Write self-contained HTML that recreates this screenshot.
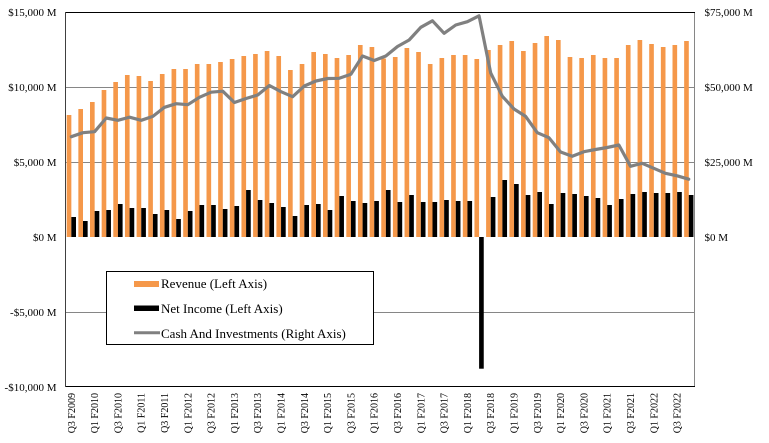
<!DOCTYPE html>
<html><head><meta charset="utf-8"><style>
html,body{margin:0;padding:0;background:#fff;}
svg{display:block;font-family:"Liberation Serif",serif;}
</style></head><body>
<svg width="769" height="443" viewBox="0 0 769 443" xmlns="http://www.w3.org/2000/svg">
<rect width="769" height="443" fill="#fff"/>
<g stroke="#868686" stroke-width="1" shape-rendering="crispEdges">
<line x1="66" y1="87.5" x2="694" y2="87.5"/>
<line x1="66" y1="162.5" x2="694" y2="162.5"/>
<line x1="66" y1="312.5" x2="694" y2="312.5"/>
<line x1="694.5" y1="12" x2="694.5" y2="387"/>
</g>
<g stroke="#000" stroke-width="1" shape-rendering="crispEdges">
<line x1="66" y1="12.5" x2="695" y2="12.5"/>
<line x1="66" y1="386.5" x2="695" y2="386.5"/>
</g>
<line x1="65.5" y1="12" x2="65.5" y2="387" stroke="#404040" stroke-width="1" shape-rendering="crispEdges"/>

<g fill="#f5984a">
<rect x="66.70" y="115" width="4.65" height="122"/>
<rect x="78.35" y="109" width="4.65" height="128"/>
<rect x="90.00" y="102" width="4.65" height="135"/>
<rect x="101.65" y="90" width="4.65" height="147"/>
<rect x="113.30" y="82" width="4.65" height="155"/>
<rect x="124.95" y="75" width="4.65" height="162"/>
<rect x="136.60" y="76" width="4.65" height="161"/>
<rect x="148.25" y="81" width="4.65" height="156"/>
<rect x="159.90" y="74" width="4.65" height="163"/>
<rect x="171.55" y="69" width="4.65" height="168"/>
<rect x="183.20" y="69" width="4.65" height="168"/>
<rect x="194.85" y="64" width="4.65" height="173"/>
<rect x="206.50" y="64" width="4.65" height="173"/>
<rect x="218.15" y="62" width="4.65" height="175"/>
<rect x="229.80" y="59" width="4.65" height="178"/>
<rect x="241.45" y="56" width="4.65" height="181"/>
<rect x="253.10" y="54" width="4.65" height="183"/>
<rect x="264.75" y="51" width="4.65" height="186"/>
<rect x="276.40" y="56" width="4.65" height="181"/>
<rect x="288.05" y="70" width="4.65" height="167"/>
<rect x="299.70" y="64" width="4.65" height="173"/>
<rect x="311.35" y="52" width="4.65" height="185"/>
<rect x="323.00" y="54" width="4.65" height="183"/>
<rect x="334.65" y="58" width="4.65" height="179"/>
<rect x="346.30" y="55" width="4.65" height="182"/>
<rect x="357.95" y="45" width="4.65" height="192"/>
<rect x="369.60" y="47" width="4.65" height="190"/>
<rect x="381.25" y="58.5" width="4.65" height="178.5"/>
<rect x="392.90" y="57" width="4.65" height="180"/>
<rect x="404.55" y="48" width="4.65" height="189"/>
<rect x="416.20" y="52" width="4.65" height="185"/>
<rect x="427.85" y="64" width="4.65" height="173"/>
<rect x="439.50" y="58" width="4.65" height="179"/>
<rect x="451.15" y="55" width="4.65" height="182"/>
<rect x="462.80" y="55" width="4.65" height="182"/>
<rect x="474.45" y="59" width="4.65" height="178"/>
<rect x="486.10" y="50" width="4.65" height="187"/>
<rect x="497.75" y="45" width="4.65" height="192"/>
<rect x="509.40" y="41" width="4.65" height="196"/>
<rect x="521.05" y="51" width="4.65" height="186"/>
<rect x="532.70" y="43" width="4.65" height="194"/>
<rect x="544.35" y="36" width="4.65" height="201"/>
<rect x="556.00" y="40" width="4.65" height="197"/>
<rect x="567.65" y="57" width="4.65" height="180"/>
<rect x="579.30" y="58" width="4.65" height="179"/>
<rect x="590.95" y="55" width="4.65" height="182"/>
<rect x="602.60" y="58" width="4.65" height="179"/>
<rect x="614.25" y="58" width="4.65" height="179"/>
<rect x="625.90" y="45" width="4.65" height="192"/>
<rect x="637.55" y="40" width="4.65" height="197"/>
<rect x="649.20" y="44" width="4.65" height="193"/>
<rect x="660.85" y="47" width="4.65" height="190"/>
<rect x="672.50" y="45" width="4.65" height="192"/>
<rect x="684.15" y="41" width="4.65" height="196"/>
</g>

<g fill="#000">
<rect x="71.35" y="217" width="4.65" height="20"/>
<rect x="83.00" y="221" width="4.65" height="16"/>
<rect x="94.65" y="211" width="4.65" height="26"/>
<rect x="106.30" y="210" width="4.65" height="27"/>
<rect x="117.95" y="204" width="4.65" height="33"/>
<rect x="129.60" y="208" width="4.65" height="29"/>
<rect x="141.25" y="208" width="4.65" height="29"/>
<rect x="152.90" y="214" width="4.65" height="23"/>
<rect x="164.55" y="210" width="4.65" height="27"/>
<rect x="176.20" y="219" width="4.65" height="18"/>
<rect x="187.85" y="211" width="4.65" height="26"/>
<rect x="199.50" y="205" width="4.65" height="32"/>
<rect x="211.15" y="205" width="4.65" height="32"/>
<rect x="222.80" y="209" width="4.65" height="28"/>
<rect x="234.45" y="206" width="4.65" height="31"/>
<rect x="246.10" y="190" width="4.65" height="47"/>
<rect x="257.75" y="200" width="4.65" height="37"/>
<rect x="269.40" y="203" width="4.65" height="34"/>
<rect x="281.05" y="207" width="4.65" height="30"/>
<rect x="292.70" y="216" width="4.65" height="21"/>
<rect x="304.35" y="205" width="4.65" height="32"/>
<rect x="316.00" y="204" width="4.65" height="33"/>
<rect x="327.65" y="210" width="4.65" height="27"/>
<rect x="339.30" y="196" width="4.65" height="41"/>
<rect x="350.95" y="201" width="4.65" height="36"/>
<rect x="362.60" y="203" width="4.65" height="34"/>
<rect x="374.25" y="201" width="4.65" height="36"/>
<rect x="385.90" y="190" width="4.65" height="47"/>
<rect x="397.55" y="202" width="4.65" height="35"/>
<rect x="409.20" y="195" width="4.65" height="42"/>
<rect x="420.85" y="202" width="4.65" height="35"/>
<rect x="432.50" y="202" width="4.65" height="35"/>
<rect x="444.15" y="200" width="4.65" height="37"/>
<rect x="455.80" y="201" width="4.65" height="36"/>
<rect x="467.45" y="201" width="4.65" height="36"/>
<rect x="479.10" y="237" width="4.65" height="131.7"/>
<rect x="490.75" y="197" width="4.65" height="40"/>
<rect x="502.40" y="180" width="4.65" height="57"/>
<rect x="514.05" y="184" width="4.65" height="53"/>
<rect x="525.70" y="195" width="4.65" height="42"/>
<rect x="537.35" y="192" width="4.65" height="45"/>
<rect x="549.00" y="204" width="4.65" height="33"/>
<rect x="560.65" y="193" width="4.65" height="44"/>
<rect x="572.30" y="194" width="4.65" height="43"/>
<rect x="583.95" y="196" width="4.65" height="41"/>
<rect x="595.60" y="198" width="4.65" height="39"/>
<rect x="607.25" y="205" width="4.65" height="32"/>
<rect x="618.90" y="199" width="4.65" height="38"/>
<rect x="630.55" y="194" width="4.65" height="43"/>
<rect x="642.20" y="192" width="4.65" height="45"/>
<rect x="653.85" y="193" width="4.65" height="44"/>
<rect x="665.50" y="193" width="4.65" height="44"/>
<rect x="677.15" y="192" width="4.65" height="45"/>
<rect x="688.80" y="195" width="4.65" height="42"/>
</g>

<polyline fill="none" stroke="#808080" stroke-width="3.2" stroke-linejoin="round" stroke-linecap="round" points="71.3,136.7 82.95,132.7 94.6,131.7 106.25,118 117.9,120.3 129.55,117.2 141.2,120.3 152.85,116.4 164.5,107.3 176.15,103.7 187.8,104.7 199.45,97.3 211.1,92.2 222.75,91.2 234.4,102.5 246.05,98.5 257.7,95 269.35,85.5 281,91.7 292.65,96.7 304.3,86 315.95,81 327.6,78.5 339.25,78.3 350.9,74.2 362.55,56 374.2,60.5 385.85,56 397.5,46.5 409.15,40 420.8,27.3 432.45,20.8 444.1,33.3 455.75,25 467.4,21.7 479.05,15.8 490.7,73 502.35,96.3 514,109 525.65,116.4 537.3,132.7 548.95,137.7 560.6,152 572.25,156.3 583.9,151.7 595.55,149.5 607.2,147.5 618.85,145 630.5,166.3 642.15,163.3 653.8,168.3 665.45,173.3 677.1,175.8 688.75,179.2"/>

<g font-size="11" fill="#000" text-anchor="end">
<text x="56.5" y="16">$15,000 M</text>
<text x="56.5" y="91">$10,000 M</text>
<text x="56.5" y="166">$5,000 M</text>
<text x="56.5" y="241">$0 M</text>
<text x="56.5" y="316">-$5,000 M</text>
<text x="56.5" y="391">-$10,000 M</text>
</g>
<g font-size="11" fill="#000">
<text x="704.5" y="16">$75,000 M</text>
<text x="704.5" y="91">$50,000 M</text>
<text x="704.5" y="166">$25,000 M</text>
<text x="704.5" y="241">$0 M</text>
</g>

<g font-size="10" fill="#000" text-anchor="end">
<text transform="translate(74.8,393) rotate(-90)">Q3 F2009</text>
<text transform="translate(98.1,393) rotate(-90)">Q1 F2010</text>
<text transform="translate(121.4,393) rotate(-90)">Q3 F2010</text>
<text transform="translate(144.7,393) rotate(-90)">Q1 F2011</text>
<text transform="translate(168.0,393) rotate(-90)">Q3 F2011</text>
<text transform="translate(191.3,393) rotate(-90)">Q1 F2012</text>
<text transform="translate(214.6,393) rotate(-90)">Q3 F2012</text>
<text transform="translate(237.9,393) rotate(-90)">Q1 F2013</text>
<text transform="translate(261.2,393) rotate(-90)">Q3 F2013</text>
<text transform="translate(284.5,393) rotate(-90)">Q1 F2014</text>
<text transform="translate(307.8,393) rotate(-90)">Q3 F2014</text>
<text transform="translate(331.1,393) rotate(-90)">Q1 F2015</text>
<text transform="translate(354.4,393) rotate(-90)">Q3 F2015</text>
<text transform="translate(377.7,393) rotate(-90)">Q1 F2016</text>
<text transform="translate(401.0,393) rotate(-90)">Q3 F2016</text>
<text transform="translate(424.3,393) rotate(-90)">Q1 F2017</text>
<text transform="translate(447.6,393) rotate(-90)">Q3 F2017</text>
<text transform="translate(470.9,393) rotate(-90)">Q1 F2018</text>
<text transform="translate(494.2,393) rotate(-90)">Q3 F2018</text>
<text transform="translate(517.5,393) rotate(-90)">Q1 F2019</text>
<text transform="translate(540.8,393) rotate(-90)">Q3 F2019</text>
<text transform="translate(564.1,393) rotate(-90)">Q1 F2020</text>
<text transform="translate(587.4,393) rotate(-90)">Q3 F2020</text>
<text transform="translate(610.7,393) rotate(-90)">Q1 F2021</text>
<text transform="translate(634.0,393) rotate(-90)">Q3 F2021</text>
<text transform="translate(657.3,393) rotate(-90)">Q1 F2022</text>
<text transform="translate(680.6,393) rotate(-90)">Q3 F2022</text>
</g>

<rect x="106.5" y="271.5" width="267" height="73" fill="#fff" stroke="#000" stroke-width="1"/>
<rect x="134" y="281" width="25" height="6" fill="#f5984a"/>
<rect x="134" y="305.5" width="25" height="5.5" fill="#000"/>
<line x1="134" y1="332.7" x2="160" y2="332.7" stroke="#808080" stroke-width="3"/>
<g font-size="13" fill="#000">
<text x="161" y="288">Revenue (Left Axis)</text>
<text x="161" y="313">Net Income (Left Axis)</text>
<text x="161" y="338">Cash And Investments (Right Axis)</text>
</g>
</svg>
</body></html>
